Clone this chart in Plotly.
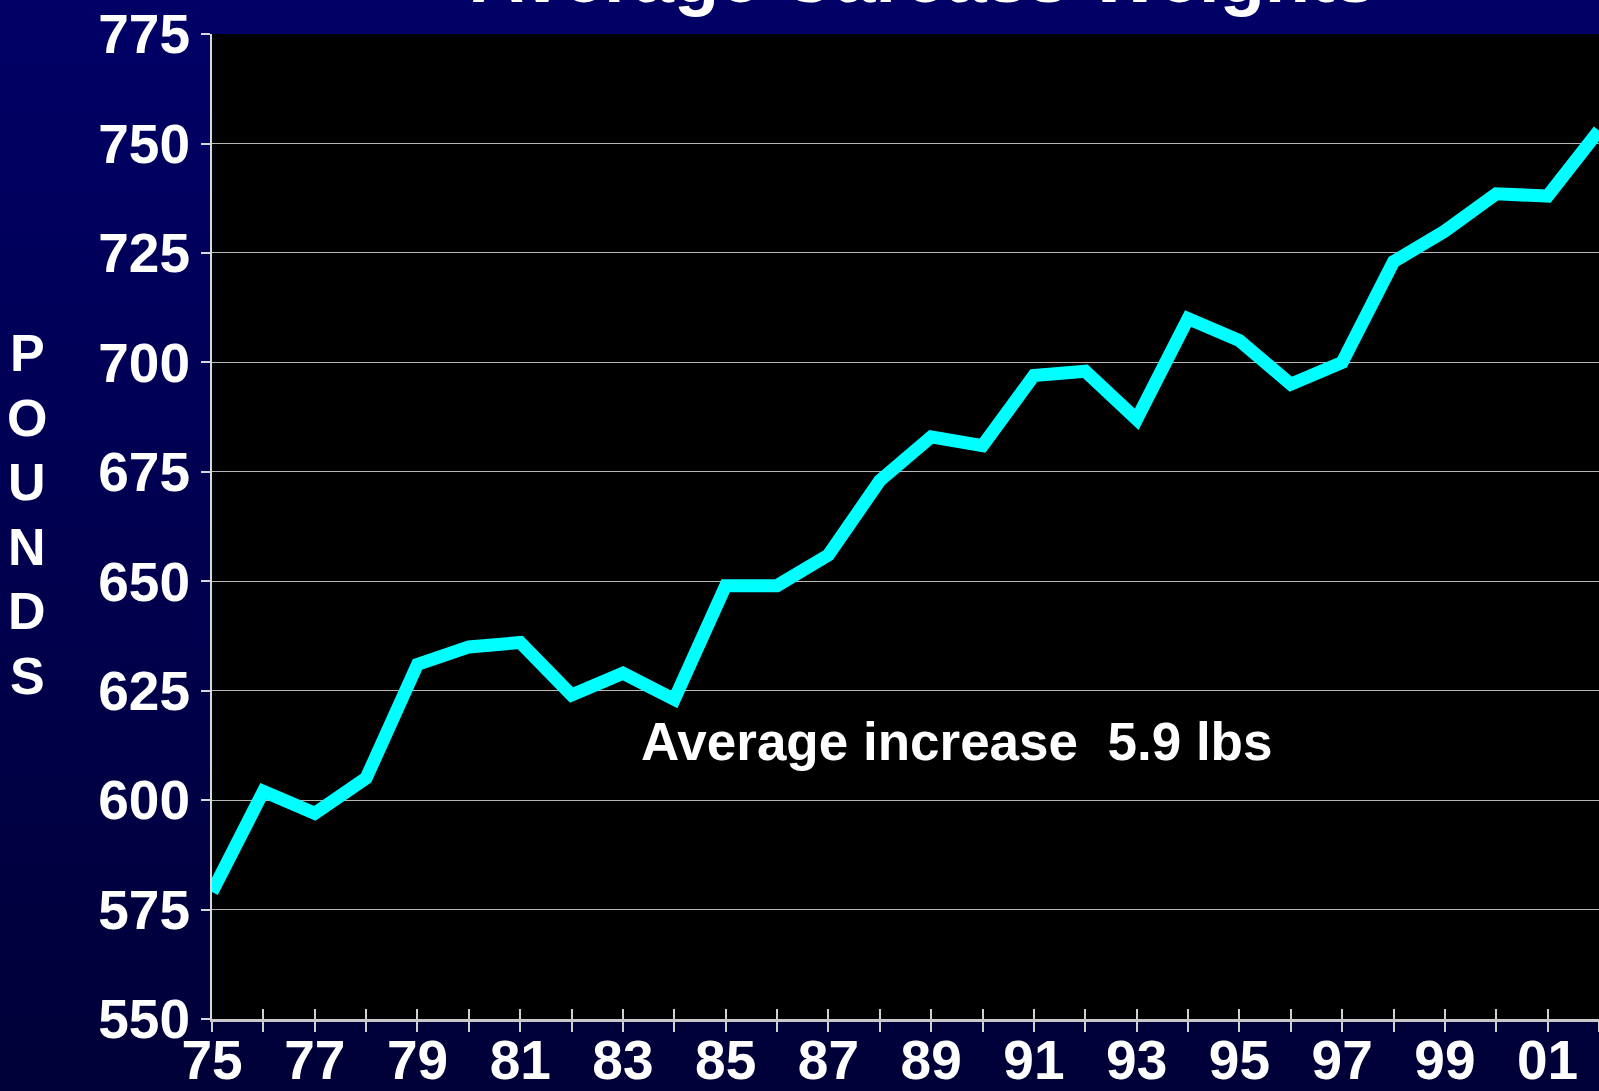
import plotly.graph_objects as go

# ---------------- data ----------------
years = list(range(1975, 2003))
carcass_weight = [579, 602, 597, 605, 631, 635, 636, 624, 629, 623,
                  649, 649, 656, 673, 683, 681, 697, 698, 687, 710,
                  705, 695, 700, 723, 730, 738.5, 738, 753]
x_tick_labels = ['75', '', '77', '', '79', '', '81', '', '83', '', '85', '', '87', '',
                 '89', '', '91', '', '93', '', '95', '', '97', '', '99', '', '01', '']
y_tick_values = [550, 575, 600, 625, 650, 675, 700, 725, 750, 775]
title_text = "Average Carcass Weights"
y_title_text = "POUNDS"
note_text = "Average increase\u00a0 5.9 lbs"
note_x, note_y = 1989.5, 613.4

# ---------------- layout geometry ----------------
W, H = 1599, 1091
ML, MR, MT, MB = 212, 0, 34, 72
PW, PH = W - ML - MR, H - MT - MB

FONT = "Liberation Sans, Arial, sans-serif"

fig = go.Figure()
fig.add_trace(go.Scatter(
    x=years, y=carcass_weight, mode='lines',
    line=dict(color='#00FFFF', width=13),
    hoverinfo='skip', showlegend=False))
# helper trace so the overlay axis (inside half of x ticks) gets drawn
fig.add_trace(go.Scatter(
    x=years, y=carcass_weight, mode='none', xaxis='x2',
    hoverinfo='skip', showlegend=False))

# gradient background (navy), then black plot area
shapes = []
N = 64
fy0 = -MB / PH - 0.01
fy1 = 1 + MT / PH + 0.01
fx0 = -ML / PW - 0.01
for i in range(N):
    t = i / (N - 1)
    b = round(56 + (102 - 56) * t)
    shapes.append(dict(type='rect', xref='paper', yref='paper', layer='below',
                       x0=fx0, x1=1.01,
                       y0=fy0 + (fy1 - fy0) * i / N,
                       y1=fy0 + (fy1 - fy0) * (i + 1) / N + 0.002,
                       line=dict(width=0), fillcolor=f'rgb(0,0,{b})'))
shapes.append(dict(type='rect', xref='paper', yref='paper', layer='below',
                   x0=0, x1=1, y0=0, y1=1, line=dict(width=0), fillcolor='black'))

annotations = []
# title (mostly above the visible page)
annotations.append(dict(text=title_text, xref='paper', yref='paper',
                        x=(923 - ML) / PW, y=1, xanchor='center', yanchor='bottom',
                        yshift=14, showarrow=False,
                        font=dict(family=FONT, size=74, color='white', weight='bold')))
# vertical stacked axis title
for i, ch in enumerate(y_title_text):
    yc = 353 + i * 64.6
    annotations.append(dict(text=ch, xref='paper', yref='paper',
                            x=(27 - ML) / PW, y=(H - MB - yc) / PH,
                            xanchor='center', yanchor='middle', showarrow=False,
                            font=dict(family=FONT, size=52, color='white', weight='bold')))
# note
annotations.append(dict(text=note_text, x=note_x, y=note_y, xref='x', yref='y',
                        xanchor='center', yanchor='middle', showarrow=False,
                        font=dict(family=FONT, size=53, color='white', weight='bold')))

tick_font = dict(family=FONT, size=55, color='white', weight='bold')

fig.update_layout(
    template='none',
    width=W, height=H,
    margin=dict(l=ML, r=MR, t=MT, b=MB, pad=0, autoexpand=False),
    paper_bgcolor='#000050', plot_bgcolor='black',
    showlegend=False,
    shapes=shapes, annotations=annotations,
    xaxis=dict(range=[1975, 2002], tickmode='array', tickvals=years, ticktext=x_tick_labels,
               ticks='outside', ticklen=10, tickwidth=1.5, tickcolor='#D0D0D0',
               showline=True, linecolor='#C8C8C8', linewidth=3,
               showgrid=False, zeroline=False, tickfont=tick_font, tickangle=0,
               automargin=False, ticklabelstandoff=-19, ticklabeloverflow='allow'),
    xaxis2=dict(range=[1975, 2002], overlaying='x', anchor='y', side='bottom',
                tickmode='array', tickvals=years, ticks='inside', ticklen=10,
                tickwidth=1.5, tickcolor='#D0D0D0', showticklabels=False,
                showline=False, showgrid=False, zeroline=False, automargin=False),
    yaxis=dict(range=[550, 775.02], tickmode='array', tickvals=y_tick_values,
               ticks='outside', ticklen=9, tickwidth=1.5, tickcolor='#D8D8D8',
               showline=True, linecolor='#D8D8D8', linewidth=2,
               showgrid=True, gridcolor='#B8B8B8', gridwidth=1.2,
               zeroline=False, tickfont=tick_font, automargin=False,
               ticklabeloverflow='allow'),
)

fig.write_html("out.html",
               config={'displayModeBar': False},
               post_script="document.body.style.margin='0';document.body.style.overflow='hidden';")
